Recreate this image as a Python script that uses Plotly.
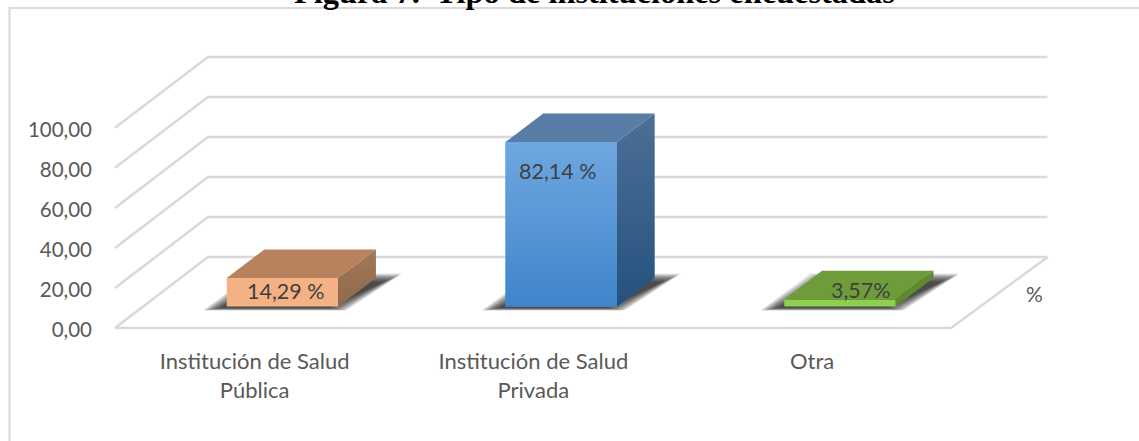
import plotly.graph_objects as go

# ---- data ----
categories = ["Institución de Salud<br>Pública", "Institución de Salud<br>Privada", "Otra"]
values = [14.29, 82.14, 3.57]
value_labels = ["14,29 %", "82,14 %", "3,57%"]
y_ticks = [0, 20, 40, 60, 80, 100]
y_tick_labels = ["0,00", "20,00", "40,00", "60,00", "80,00", "100,00"]
title = "Figura 7.  Tipo de instituciones encuestadas"
axis_title = "%"

# ---- scales ----
W, H = 1139, 441
ML, MB = 93, 102.5
PX_X = 278.75          # px per category
PX_Y = 2.005           # px per value unit
X0_PX = 282.5          # px of first category
Y0_PX = 328.5          # px of value zero
xr = [(ML - X0_PX) / PX_X, (W - X0_PX) / PX_X]
plot_bottom = H - MB
yr = [(Y0_PX - plot_bottom) / PX_Y, Y0_PX / PX_Y]

dx_px = lambda p: p / PX_X
dy_px = lambda p: p / PX_Y
WALL_DX, WALL_DY = dx_px(93), dy_px(71)
BAR_DX, BAR_DY = dx_px(37.7), dy_px(28.6)
BAR_W = 111.5 / PX_X
LIFT = dy_px(21.5)
AX_L, AX_R = (115 - X0_PX) / PX_X, (951 - X0_PX) / PX_X
AX_R_BACK = (1047.5 - X0_PX) / PX_X

front_col = ["#F4B183", "#5B9BD5", "#8ED04E"]
top_col = ["#B8825F", "#587DA6", "#6F9C3A"]
side_col = ["#9A7152", "#3A6A9A", "#5F8A30"]
front_grad = [None, ("#6FA7E1", "#3F85CA"), None]
side_grad = [("#A27858", "#8F694C"), ("#4C7097", "#25517E"), None]
GRID = "#D9D9D9"
TXT = "#595959"
LBL = "#404040"
FONT = "Lato"

idx = list(range(len(categories)))
shapes = []


def poly(pts):
    return "M " + " L ".join(f"{a},{b}" for a, b in pts) + " Z"


# walls and floor
for v in y_ticks:
    shapes.append(dict(type="path", xref="x", yref="y", layer="below",
                       path="M " + " L ".join(f"{a},{b}" for a, b in [
                           (AX_L, v), (AX_L + WALL_DX, v + WALL_DY), (AX_R_BACK, v + WALL_DY)]),
                       line=dict(color=GRID, width=2.5)))
shapes.append(dict(type="path", xref="x", yref="y", layer="below",
                   path="M " + " L ".join(f"{a},{b}" for a, b in [
                       (AX_L, 0), (AX_R, 0), (AX_R_BACK, WALL_DY)]),
                   line=dict(color=GRID, width=2.5)))

# soft floor shadows
for i in idx:
    xl, xrr = i - BAR_W / 2, i + BAR_W / 2
    for k in range(15):
        ix, it, ib = dx_px(1.3 * k), dy_px(0.6 * k), dy_px(0.2 * k)
        pts = [(xl - dx_px(24) + ix, LIFT - dy_px(4) + ib),
               (xrr + dx_px(8) - ix, LIFT - dy_px(4) + ib),
               (xrr + dx_px(64) - ix, LIFT + dy_px(33) - it),
               (xl + dx_px(26) + ix, LIFT + dy_px(33) - it)]
        shapes.append(dict(type="path", xref="x", yref="y", layer="below", path=poly(pts),
                           fillcolor="rgba(25,25,25,0.09)", line=dict(width=0)))

# frame around the chart
px_x = lambda p: (p - ML) / (W - ML)
px_y = lambda p: (plot_bottom - p) / plot_bottom
shapes.append(dict(type="path", xref="paper", yref="paper", layer="below",
                   path=f"M {px_x(9.5)},{px_y(H + 5)} L {px_x(9.5)},{px_y(8)} L {px_x(W + 5)},{px_y(8)}",
                   line=dict(color=GRID, width=2)))

fig = go.Figure()

fig.add_trace(go.Bar(x=idx, y=values, base=[LIFT] * 3, width=BAR_W,
                     marker=dict(color=front_col, line=dict(width=0)),
                     hoverinfo="skip", showlegend=False))


def face(pts, color, grad=None):
    xs = [p[0] for p in pts] + [pts[0][0]]
    ys = [p[1] for p in pts] + [pts[0][1]]
    kw = {}
    if grad:
        y_lo, y_hi = min(ys), max(ys)
        kw["fillgradient"] = dict(type="vertical", colorscale=[[0, grad[1]], [1, grad[0]]],
                                  start=y_lo, stop=y_hi)
    else:
        kw["fillcolor"] = color
    fig.add_trace(go.Scatter(x=xs, y=ys, mode="lines", fill="toself",
                             line=dict(width=0, color=color), hoverinfo="skip",
                             showlegend=False, **kw))


for i, v in zip(idx, values):
    xl, xrr = i - BAR_W / 2, i + BAR_W / 2
    bot, top = LIFT, LIFT + v
    face([(xl, top), (xrr, top), (xrr + BAR_DX, top + BAR_DY), (xl + BAR_DX, top + BAR_DY)], top_col[i])
    face([(xrr, bot), (xrr + BAR_DX, bot + BAR_DY), (xrr + BAR_DX, top + BAR_DY), (xrr, top)],
         side_col[i], side_grad[i])
    if front_grad[i]:
        face([(xl, bot), (xrr, bot), (xrr, top), (xl, top)], front_col[i], front_grad[i])

# value labels, offset in pixels from their bars
label_shift = [(3, -13), (-3, -14), (21, 9)]
label_anchor = ["middle", "top", "middle"]
annotations = []
for i, v, t, s, a in zip(idx, values, value_labels, label_shift, label_anchor):
    annotations.append(dict(x=i, y=LIFT + v, xref="x", yref="y", text=t, showarrow=False,
                            xshift=s[0], yshift=s[1], yanchor=a,
                            font=dict(family=FONT, size=21.5, color=LBL)))
annotations.append(dict(x=px_x(1034), y=px_y(294), xref="paper", yref="paper", text=axis_title,
                        xanchor="center", yanchor="middle",
                        showarrow=False, font=dict(family=FONT, size=21, color=TXT)))
annotations.append(dict(x=px_x(594.5), y=px_y(-8.5), xref="paper", yref="paper", text="<b>" + title + "</b>",
                        showarrow=False, xanchor="center", yanchor="middle",
                        font=dict(family="Liberation Serif", size=32.4, color="#000000")))

fig.update_layout(
    width=W, height=H, autosize=False,
    margin=dict(l=ML, r=0, t=0, b=MB, pad=0),
    paper_bgcolor="white", plot_bgcolor="white",
    showlegend=False, shapes=shapes, annotations=annotations,
    xaxis=dict(range=xr, tickmode="array", tickvals=[i - 0.1 for i in idx], ticktext=categories,
               showgrid=False, zeroline=False, showline=False, ticks="", automargin=False,
               tickfont=dict(family=FONT, size=22, color=TXT), ticklabelstandoff=8, tickangle=0),
    yaxis=dict(range=yr, tickmode="array", tickvals=y_ticks, ticktext=y_tick_labels,
               showgrid=False, zeroline=False, showline=False, ticks="", automargin=False,
               ticklabelshift=2,
               tickfont=dict(family=FONT, size=20.5, color=TXT)),
)

fig.write_html("out.html", post_script="document.body.style.margin='0';",
               config=dict(displayModeBar=False, staticPlot=True))
